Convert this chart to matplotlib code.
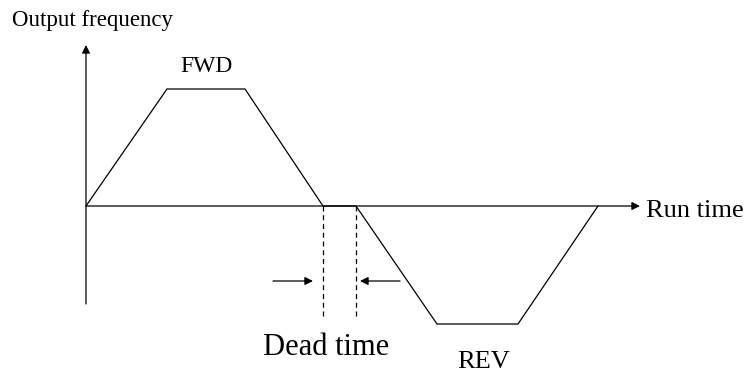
import matplotlib
matplotlib.use("Agg")
import matplotlib.pyplot as plt

plt.rcParams['font.family'] = ['Liberation Serif', 'DejaVu Serif']

# waveform: run time vs output frequency (FWD positive, REV negative)
run_time = [0, 81, 159, 237, 270, 351, 432, 512]
output_freq = [0, 117, 117, 0, 0, -118, -118, 0]
dead_start = 237
dead_end = 270

fig = plt.figure(figsize=(7.5, 3.74), dpi=100)
ax = fig.add_axes([0, 0, 1, 1])
ax.set_xlim(-86, 664)
ax.set_ylim(-168, 206)
ax.axis('off')

lw = 0.9
# axes with arrow heads
ax.annotate('', xy=(0, 161), xytext=(0, -98),
            arrowprops=dict(arrowstyle='-|>', color='black', lw=lw,
                            mutation_scale=12, shrinkA=0, shrinkB=0))
ax.annotate('', xy=(554, 0), xytext=(0, 0),
            arrowprops=dict(arrowstyle='-|>', color='black', lw=lw,
                            mutation_scale=12, shrinkA=0, shrinkB=0))

ax.plot(run_time, output_freq, color='black', lw=lw, solid_joinstyle='miter')

# dead time markers
for x in (dead_start, dead_end):
    ax.plot([x, x], [0, -111], color='black', lw=lw, linestyle=(0, (4, 3)))
ax.annotate('', xy=(dead_start - 10, -75), xytext=(dead_start - 50, -75),
            arrowprops=dict(arrowstyle='-|>', color='black', lw=lw,
                            mutation_scale=12, shrinkA=0, shrinkB=0))
ax.annotate('', xy=(dead_end + 4, -75), xytext=(dead_end + 44, -75),
            arrowprops=dict(arrowstyle='-|>', color='black', lw=lw,
                            mutation_scale=12, shrinkA=0, shrinkB=0))

ax.text(-74, 180, 'Output frequency', fontsize=16.5, va='baseline', ha='left')
ax.text(94, 134, 'FWD', fontsize=17, va='baseline', ha='left')
ax.text(560, -11, 'Run time', fontsize=19, va='baseline', ha='left')
ax.text(177, -149, 'Dead time', fontsize=22, va='baseline', ha='left')
ax.text(371, -162, 'REV', fontsize=19, va='baseline', ha='left')

fig.savefig('out.png', dpi=100)
